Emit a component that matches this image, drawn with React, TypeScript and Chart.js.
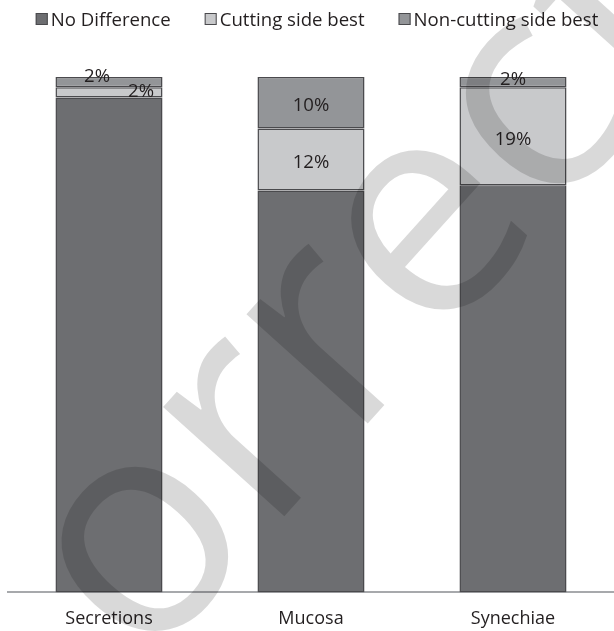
import React, { useEffect, useRef } from "react";
import { Chart, registerables } from "chart.js";
Chart.register(...registerables);

const categories = ["Secretions", "Mucosa", "Synechiae"];
const seriesNames = ["No Difference", "Cutting side best", "Non-cutting side best"];
const noDifference = [96, 78, 79];
const cuttingSideBest = [2, 12, 19];
const nonCuttingSideBest = [2, 10, 2];
const watermarkText = "orrect";

const FONT = '"Open Sans", "Noto Sans", sans-serif';
const TEXT = "#231f20";
const fills = ["#6d6e71", "#c8c9cb", "#939598"];
const BORDER = "#4a4a4d";

// label offsets (dx, dy) for small segments: key = datasetIndex-categoryIndex
const labelOffsets: Record<string, [number, number]> = {
  "2-0": [-12, -5],
  "1-0": [32, -1],
  "2-2": [0, -2],
};

const legendPlugin = {
  id: "customLegend",
  afterDraw(chart: any) {
    const ctx = chart.ctx;
    ctx.save();
    ctx.font = `18.6px ${FONT}`;
    ctx.textBaseline = "middle";
    ctx.textAlign = "left";
    const box = 12;
    const gapBoxText = 3;
    const gapItems = 34;
    let total = 0;
    const widths = seriesNames.map((n) => ctx.measureText(n).width);
    widths.forEach((w, i) => {
      total += box + gapBoxText + w + (i < widths.length - 1 ? gapItems : 0);
    });
    let x = 317 - total / 2;
    const y = 21;
    seriesNames.forEach((n, i) => {
      ctx.fillStyle = fills[i];
      ctx.fillRect(x, y - 8, box, box);
      ctx.strokeStyle = BORDER;
      ctx.lineWidth = 1;
      ctx.strokeRect(x + 0.5, y - 7.5, box - 1, box - 1);
      ctx.fillStyle = TEXT;
      ctx.fillText(n, x + box + gapBoxText, y);
      x += box + gapBoxText + widths[i] + gapItems;
    });
    ctx.restore();
  },
};

const labelPlugin = {
  id: "segLabels",
  afterDatasetsDraw(chart: any) {
    const ctx = chart.ctx;
    ctx.save();
    ctx.font = `18.6px ${FONT}`;
    ctx.fillStyle = TEXT;
    ctx.textAlign = "center";
    ctx.textBaseline = "middle";
    [1, 2].forEach((di) => {
      const meta = chart.getDatasetMeta(di);
      const data = chart.data.datasets[di].data as number[];
      meta.data.forEach((el: any, ci: number) => {
        const off = labelOffsets[`${di}-${ci}`] || [0, 3];
        const cy = (el.y + el.base) / 2;
        ctx.fillText(`${data[ci]}%`, el.x + off[0], cy + off[1]);
      });
    });
    ctx.restore();
  },
};

const watermarkPlugin = {
  id: "watermark",
  afterDraw(chart: any) {
    const ctx = chart.ctx;
    ctx.save();
    ctx.fillStyle = "rgba(0,0,0,0.15)";
    ctx.font = `305px ${FONT}`;
    ctx.textBaseline = "alphabetic";
    ctx.textAlign = "left";
    ctx.translate(144, 548);
    ctx.rotate((-48 * Math.PI) / 180);
    ctx.fillText(watermarkText, -92, 83);
    ctx.restore();
  },
};

export default function App() {
  const ref = useRef<HTMLCanvasElement>(null);
  useEffect(() => {
    if (!ref.current) return;
    const mk = (i: number, data: number[]) => ({
      label: seriesNames[i],
      data,
      backgroundColor: fills[i],
      borderColor: BORDER,
      borderWidth: 1.5,
      borderSkipped: false,
      categoryPercentage: 1,
      barPercentage: 0.53,
    });
    const chart = new Chart(ref.current, {
      type: "bar",
      data: {
        labels: categories,
        datasets: [mk(0, noDifference), mk(1, cuttingSideBest), mk(2, nonCuttingSideBest)],
      },
      options: {
        animation: false,
        responsive: false,
        maintainAspectRatio: false,
        layout: { padding: { top: 77, left: 8, right: 0, bottom: -15 } },
        plugins: { legend: { display: false }, tooltip: { enabled: false } },
        scales: {
          x: {
            stacked: true,
            grid: { display: false, drawTicks: false },
            border: { display: true, color: "#a7a9ac", width: 2 },
            ticks: { color: TEXT, font: { family: FONT, size: 18 }, padding: 16 },
          },
          y: { stacked: true, min: 0, max: 100, display: false },
        },
      },
      plugins: [labelPlugin, legendPlugin, watermarkPlugin],
    });
    return () => chart.destroy();
  }, []);
  return (
    <div style={{ position: "absolute", left: 0, top: 0, width: 614, height: 631, background: "#fff" }}>
      <canvas ref={ref} width={614} height={631} />
    </div>
  );
}
